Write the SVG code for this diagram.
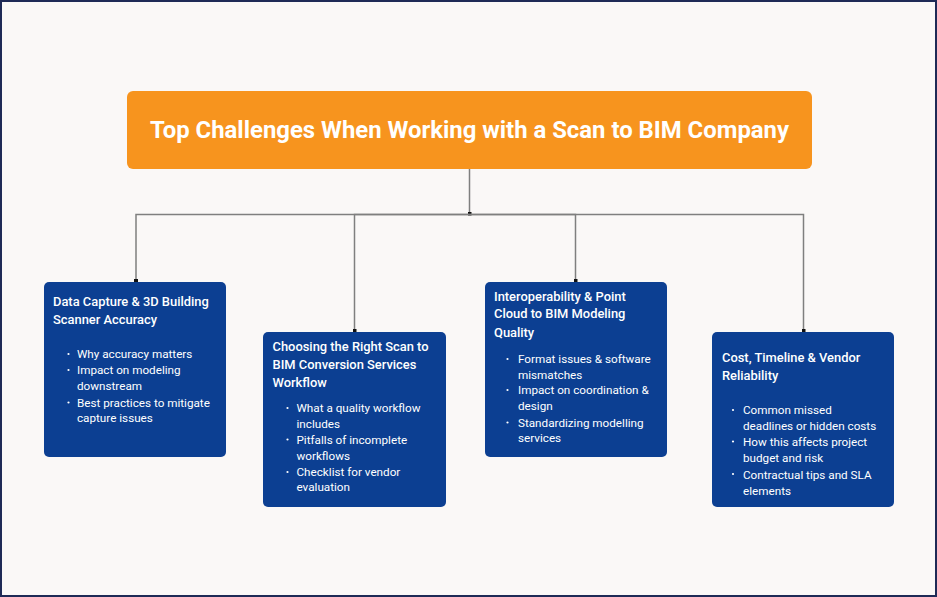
<svg xmlns="http://www.w3.org/2000/svg" width="937" height="597" viewBox="0 0 937 597">
<style>
.bg{fill:#FAF8F7;stroke:#1E2A56;stroke-width:2}
.root{fill:#F7941E}
.card{fill:#0C3F92}
.title{font-family:Roboto,"Liberation Sans",sans-serif;font-weight:700;font-size:23px;fill:#FFFFFF}
.h{font-family:Roboto,"Liberation Sans",sans-serif;font-weight:500;font-size:12.9px;fill:#FFFFFF}
.b{font-family:Roboto,"Liberation Sans",sans-serif;font-weight:400;font-size:11.7px;fill:#FFFFFF}
.dot{fill:#FFFFFF}
.conn{fill:none;stroke:#7F7F7F;stroke-width:1.5}
</style>
<defs>
<marker id="end" viewBox="0 0 4 4" refX="2" refY="2" markerWidth="4" markerHeight="4" markerUnits="userSpaceOnUse">
<rect x="0" y="0" width="4" height="4" fill="#111111"/>
</marker>
</defs>
<rect class="bg" x="1" y="1" width="935" height="595"/>
<g id="connectors">
<path class="conn" d="M469.5 169 V213.5" marker-end="url(#end)"/>
<path class="conn" d="M469.5 214.5 H136 V281" marker-end="url(#end)"/>
<path class="conn" d="M469.5 214.5 H354.5 V331" marker-end="url(#end)"/>
<path class="conn" d="M469.5 214.5 H575.5 V281" marker-end="url(#end)"/>
<path class="conn" d="M469.5 214.5 H803.5 V331" marker-end="url(#end)"/>
</g>
<g id="root">
<rect class="root" x="127" y="91" width="685" height="78" rx="6"/>
<text class="title" x="150" y="138" textLength="639" lengthAdjust="spacingAndGlyphs">Top Challenges When Working with a Scan to BIM Company</text>
</g>
<g id="node1">
<rect class="card" x="44" y="282" width="182" height="175" rx="5"/>
<text class="h" x="53" y="306">Data Capture &amp; 3D Building</text>
<text class="h" x="53" y="324">Scanner Accuracy</text>
<circle class="dot" cx="68.5" cy="354" r="1.1"/>
<circle class="dot" cx="68.5" cy="370" r="1.1"/>
<circle class="dot" cx="68.5" cy="402.5" r="1.1"/>
<text class="b" x="77" y="358">Why accuracy matters</text>
<text class="b" x="77" y="374">Impact on modeling</text>
<text class="b" x="77" y="390">downstream</text>
<text class="b" x="77" y="406.5">Best practices to mitigate</text>
<text class="b" x="77" y="422">capture issues</text>
</g>
<g id="node2">
<rect class="card" x="263" y="332" width="183" height="175" rx="5"/>
<text class="h" x="272.5" y="351">Choosing the Right Scan to</text>
<text class="h" x="272.5" y="369">BIM Conversion Services</text>
<text class="h" x="272.5" y="386.5">Workflow</text>
<circle class="dot" cx="287.5" cy="408" r="1.1"/>
<circle class="dot" cx="287.5" cy="439.5" r="1.1"/>
<circle class="dot" cx="287.5" cy="472" r="1.1"/>
<text class="b" x="296.5" y="412">What a quality workflow</text>
<text class="b" x="296.5" y="427.5">includes</text>
<text class="b" x="296.5" y="443.5">Pitfalls of incomplete</text>
<text class="b" x="296.5" y="459.5">workflows</text>
<text class="b" x="296.5" y="476">Checklist for vendor</text>
<text class="b" x="296.5" y="491">evaluation</text>
</g>
<g id="node3">
<rect class="card" x="485" y="282" width="182" height="175" rx="5"/>
<text class="h" x="494" y="300.5">Interoperability &amp; Point</text>
<text class="h" x="494" y="318">Cloud to BIM Modeling</text>
<text class="h" x="494" y="336.5">Quality</text>
<circle class="dot" cx="507.5" cy="359" r="1.1"/>
<circle class="dot" cx="507.5" cy="390" r="1.1"/>
<circle class="dot" cx="507.5" cy="422.5" r="1.1"/>
<text class="b" x="518" y="363">Format issues &amp; software</text>
<text class="b" x="518" y="378.5">mismatches</text>
<text class="b" x="518" y="394">Impact on coordination &amp;</text>
<text class="b" x="518" y="410">design</text>
<text class="b" x="518" y="427">Standardizing modelling</text>
<text class="b" x="518" y="442">services</text>
</g>
<g id="node4">
<rect class="card" x="712" y="332" width="182" height="175" rx="5"/>
<text class="h" x="722" y="361.5">Cost, Timeline &amp; Vendor</text>
<text class="h" x="722" y="379.5">Reliability</text>
<circle class="dot" cx="733" cy="410" r="1.1"/>
<circle class="dot" cx="733" cy="441.5" r="1.1"/>
<circle class="dot" cx="733" cy="474" r="1.1"/>
<text class="b" x="743" y="414">Common missed</text>
<text class="b" x="743" y="430">deadlines or hidden costs</text>
<text class="b" x="743" y="446">How this affects project</text>
<text class="b" x="743" y="461.5">budget and risk</text>
<text class="b" x="743" y="478.5">Contractual tips and SLA</text>
<text class="b" x="743" y="494.5">elements</text>
</g>
</svg>
